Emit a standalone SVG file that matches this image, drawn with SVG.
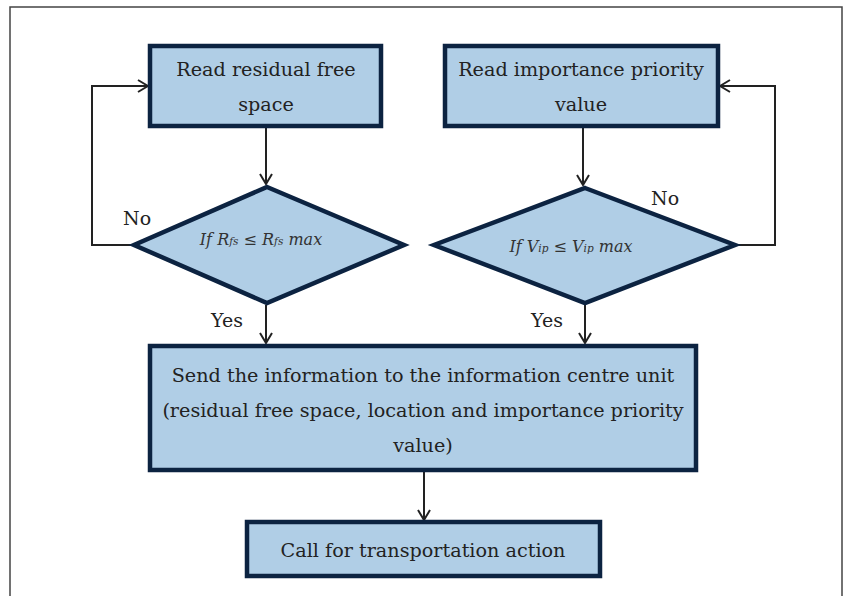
<svg xmlns="http://www.w3.org/2000/svg" width="849" height="596" viewBox="0 0 849 596">
<defs>
<style>
.node{fill:#b0cee6;stroke:#0c2341;stroke-width:4.5}
.t{font-family:"DejaVu Serif","Liberation Serif",serif;font-size:19.2px;fill:#222;text-anchor:middle}
.lbl{font-family:"DejaVu Serif","Liberation Serif",serif;font-size:19px;fill:#222}
.cond{font-family:"DejaVu Serif","Liberation Serif",serif;font-size:16px;font-style:italic;fill:#333;text-anchor:middle}
.sub{font-size:10.5px}
.c{fill:none;stroke:#222;stroke-width:2}
</style>
<marker id="arr" viewBox="0 0 12 14" refX="11" refY="7" markerWidth="12" markerHeight="14" markerUnits="userSpaceOnUse" orient="auto">
<path d="M1,1 L11,7 L1,13" fill="none" stroke="#222" stroke-width="2"/>
</marker>
</defs>
<rect x="0" y="0" width="849" height="596" fill="#fff"/>
<path d="M10,600 V7 H842 V600" fill="none" stroke="#444" stroke-width="1.5"/>
<g id="connectors">
<path class="c" d="M266,127 V184" marker-end="url(#arr)"/>
<path class="c" d="M132,245 H92 V86 H148" marker-end="url(#arr)"/>
<path class="c" d="M266,305 V343" marker-end="url(#arr)"/>
<path class="c" d="M583,127 V185" marker-end="url(#arr)"/>
<path class="c" d="M737,245 H775 V86 H720" marker-end="url(#arr)"/>
<path class="c" d="M585,305 V343" marker-end="url(#arr)"/>
<path class="c" d="M424,472 V520" marker-end="url(#arr)"/>
<text class="lbl" x="123" y="225">No</text>
<text class="lbl" x="651" y="205">No</text>
<text class="lbl" x="211" y="327">Yes</text>
<text class="lbl" x="531" y="327">Yes</text>
</g>
<g id="read-free-space">
<rect class="node" x="150" y="46" width="231" height="80"/>
<text class="t" x="266" y="76">Read residual free</text>
<text class="t" x="266" y="111">space</text>
</g>
<g id="read-priority">
<rect class="node" x="445" y="46" width="273" height="80"/>
<text class="t" x="581" y="76">Read importance priority</text>
<text class="t" x="581" y="111">value</text>
</g>
<g id="cond-free-space">
<polygon class="node" points="267,187 404,245 267,303 134,245"/>
<text class="cond" x="261" y="245">If R<tspan class="sub">fs</tspan> ≤ R<tspan class="sub">fs</tspan> max</text>
</g>
<g id="cond-priority">
<polygon class="node" points="585,188 735,245 585,303 434,245"/>
<text class="cond" x="571" y="252">If V<tspan class="sub">ip</tspan> ≤ V<tspan class="sub">ip</tspan> max</text>
</g>
<g id="send-info">
<rect class="node" x="150" y="346" width="546" height="124"/>
<text class="t" x="423" y="382">Send the information to the information centre unit</text>
<text class="t" x="423" y="417">(residual free space, location and importance priority</text>
<text class="t" x="423" y="452">value)</text>
</g>
<g id="call-transport">
<rect class="node" x="247" y="522" width="353" height="54"/>
<text class="t" x="423" y="557">Call for transportation action</text>
</g>
</svg>
